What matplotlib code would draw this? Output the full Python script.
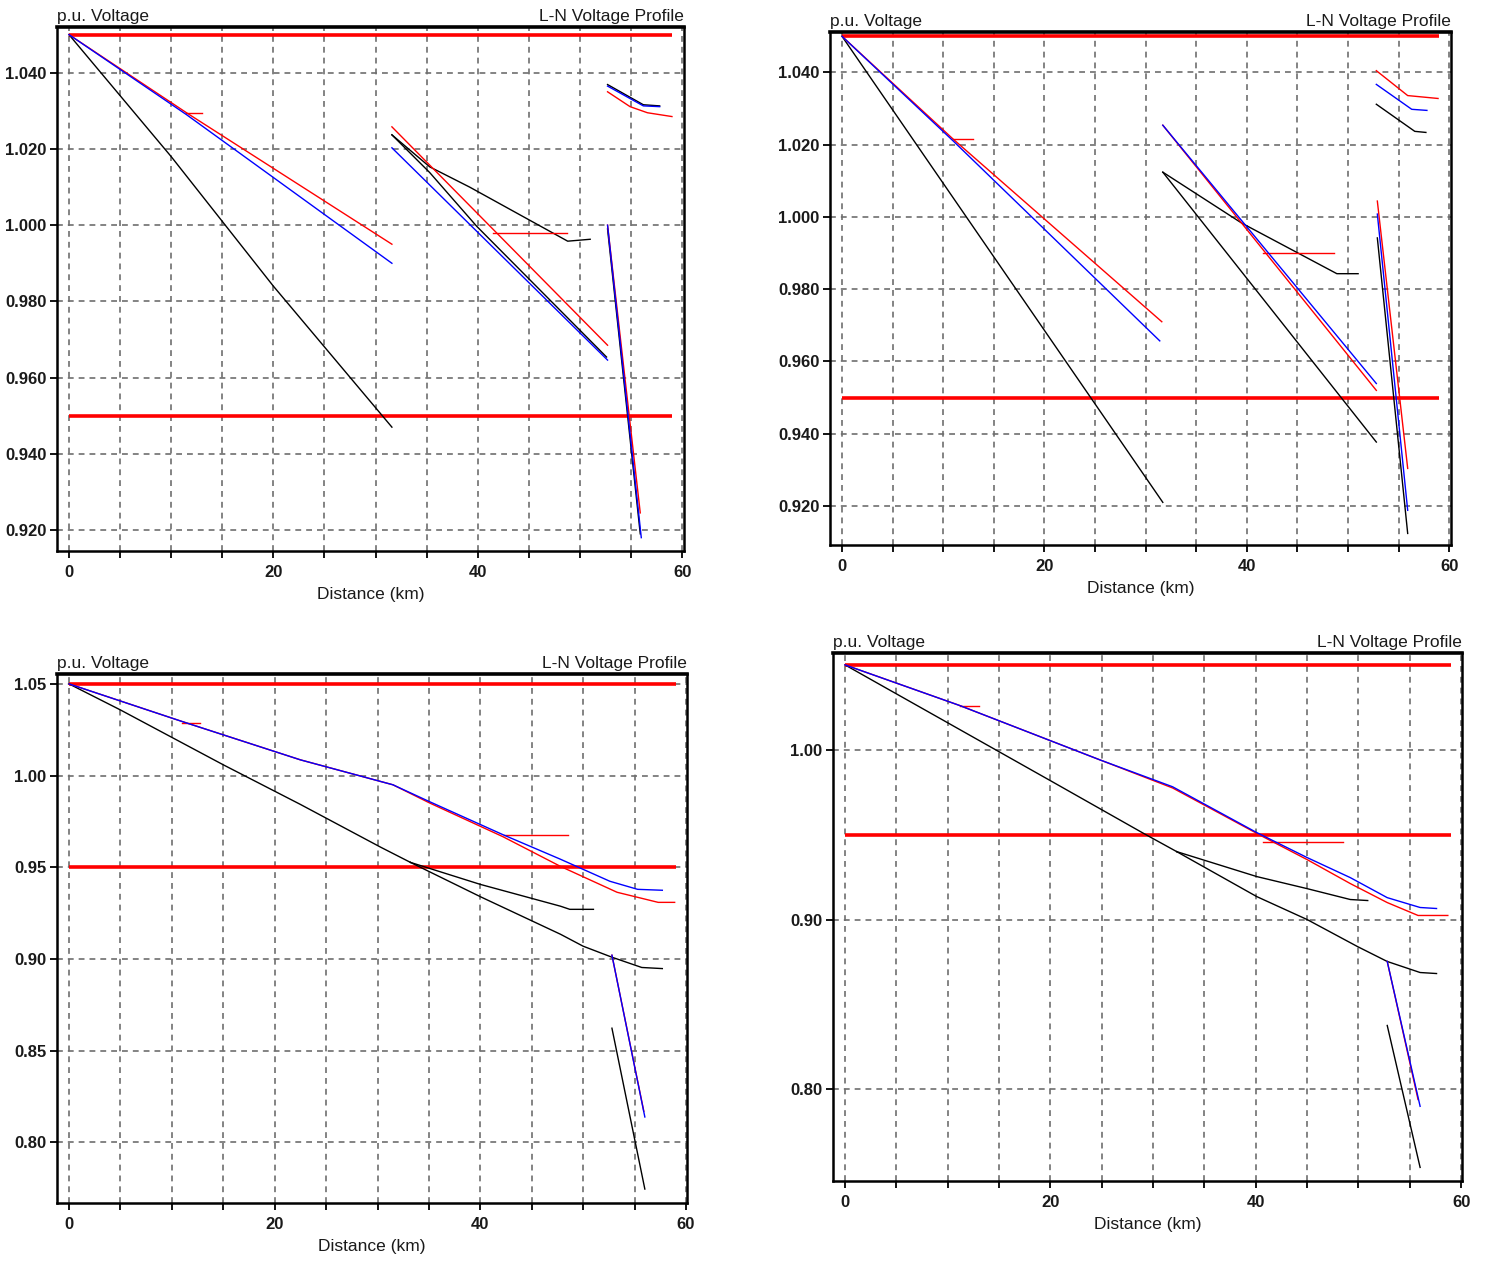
import matplotlib
matplotlib.use("Agg")
import matplotlib.pyplot as plt
import numpy as np

plt.rcParams['font.family'] = ['Liberation Sans Narrow', 'Liberation Sans', 'DejaVu Sans']

# limits of the voltage band
V_MAX = 1.05
V_MIN = 0.95
LIMIT_X = [0, 59.0]

# ---- top-left panel: segments per phase as (distance km, p.u.)
P1_BLACK = [
    ([0, 10, 20, 31.6], [1.050, 1.018, 0.984, 0.947]),
    ([31.6, 35.3, 39.2, 48.8, 51.0], [1.0237, 1.0153, 1.010, 0.9958, 0.9963]),
    ([31.6, 35.3, 39.9, 52.6], [1.0237, 1.0138, 0.9997, 0.9654]),
    ([52.7, 56.2, 57.8], [1.0369, 1.0316, 1.0313]),
    ([52.7, 55.9], [0.999, 0.919]),
]
P1_RED = [
    ([0, 11.5, 31.6], [1.050, 1.0295, 0.995]),
    ([11.5, 13.0], [1.0295, 1.0295]),
    ([31.6, 52.7], [1.0258, 0.9685]),
    ([41.5, 48.7], [0.998, 0.998]),
    ([52.7, 54.9, 56.6, 59.0], [1.035, 1.0311, 1.0295, 1.0285]),
    ([52.7, 55.9], [1.000, 0.9245]),
]
P1_BLUE = [
    ([0, 11.5, 31.6], [1.050, 1.029, 0.990]),
    ([31.6, 52.7], [1.0203, 0.9646]),
    ([52.7, 56.2, 57.8], [1.0365, 1.0313, 1.0311]),
    ([52.7, 56.0], [1.000, 0.918]),
]

# ---- top-right panel
P2_BLACK = [
    ([0, 31.7], [1.050, 0.921]),
    ([31.7, 39.5, 48.9, 51.0], [1.0124, 0.9983, 0.9843, 0.9843]),
    ([31.7, 52.8], [1.0124, 0.9377]),
    ([52.8, 56.6, 57.7], [1.0312, 1.0237, 1.0234]),
    ([52.9, 55.9], [0.9942, 0.9124]),
]
P2_RED = [
    ([0, 11, 31.6], [1.050, 1.0215, 0.971]),
    ([11, 12.9], [1.0215, 1.0215]),
    ([31.7, 52.8], [1.0254, 0.952]),
    ([41.6, 48.6], [0.990, 0.990]),
    ([52.8, 55.9, 58.9], [1.0405, 1.0336, 1.0328]),
    ([52.9, 55.9], [1.0044, 0.9304]),
]
P2_BLUE = [
    ([0, 11, 31.4], [1.050, 1.021, 0.9657]),
    ([31.7, 52.8], [1.0254, 0.9539]),
    ([52.8, 56.3, 57.8], [1.0367, 1.0298, 1.0295]),
    ([52.9, 55.9], [1.0008, 0.9188]),
]

# ---- bottom-left panel
P3_BLACK = [
    ([0, 5, 15, 22.5, 30.3, 33.2], [1.050, 1.0358, 1.0059, 0.9843, 0.961, 0.9527]),
    ([33.2, 40, 47.8, 48.7, 51.0], [0.9527, 0.9407, 0.9288, 0.9271, 0.9271]),
    ([33.2, 40, 47.8, 50.0, 52.8, 55.7, 57.7], [0.9527, 0.934, 0.9135, 0.907, 0.901, 0.8954, 0.8948]),
    ([52.8, 56.0], [0.8623, 0.7746]),
]
P3_RED = [
    ([0, 11, 22.5, 31.5, 35.1, 42.2, 47.8, 53.3, 57.3, 58.9],
     [1.050, 1.0295, 1.0086, 0.995, 0.9850, 0.9667, 0.9505, 0.9364, 0.9309, 0.9309]),
    ([11, 12.7], [1.0288, 1.0288]),
    ([42.3, 48.5], [0.9674, 0.9674]),
    ([52.8, 55.9], [0.9021, 0.817]),
]
P3_BLUE = [
    ([0, 11, 22.5, 31.5, 35.1, 42.2, 47.8, 52.6, 55.3, 57.7],
     [1.050, 1.0295, 1.0086, 0.995, 0.9857, 0.9678, 0.9544, 0.9424, 0.938, 0.9375]),
    ([52.8, 56.0], [0.9021, 0.8139]),
]

# ---- bottom-right panel
P4_BLACK = [
    ([0, 20, 29, 32.3], [1.050, 0.9818, 0.951, 0.940]),
    ([32.3, 40.1, 45.0, 49.2, 50.9], [0.940, 0.9253, 0.9182, 0.9118, 0.9112]),
    ([32.3, 40.1, 45.0, 49.9, 52.8, 56.0, 57.6], [0.940, 0.9135, 0.900, 0.8841, 0.8753, 0.8688, 0.8682]),
    ([52.8, 56.0], [0.8376, 0.754]),
]
P4_RED = [
    ([0, 11.2, 24.8, 31.9, 40.7, 45.0, 49.2, 52.8, 55.8, 58.7],
     [1.050, 1.026, 0.9941, 0.9775, 0.9488, 0.9353, 0.9212, 0.9100, 0.9024, 0.9024]),
    ([11.2, 13.0], [1.026, 1.026]),
    ([40.7, 48.5], [0.9459, 0.9459]),
    ([52.8, 55.8], [0.8753, 0.794]),
]
P4_BLUE = [
    ([0, 11.2, 24.8, 31.9, 40.1, 45.0, 49.2, 52.8, 56.0, 57.6],
     [1.050, 1.026, 0.9941, 0.9782, 0.9512, 0.9365, 0.9247, 0.9129, 0.9071, 0.9065]),
    ([52.8, 56.0], [0.8753, 0.790]),
]

X_LABELS = [0, 20, 40, 60]
P1_YTICKS = [0.92, 0.94, 0.96, 0.98, 1.00, 1.02, 1.04]
P3_YTICKS = [0.80, 0.85, 0.90, 0.95, 1.00, 1.05]
P4_YTICKS = [0.80, 0.90, 1.00]

W, H = 1487, 1264
fig = plt.figure(figsize=(W / 100, H / 100), dpi=100)
fig.patch.set_facecolor('white')
TXT = '#1a1a1a'


def make_axes(left, right, top, bottom):
    return fig.add_axes([left / W, 1 - bottom / H, (right - left) / W, (bottom - top) / H])


def draw_panel(ax, xlim, ylim, yticks, yfmt, black, red, blue):
    ax.set_xlim(*xlim)
    ax.set_ylim(*ylim)
    for v in np.arange(0, 61, 5):
        ax.axvline(v, color='#6e6e6e', lw=1.2, ls=(0, (3.5, 3)), zorder=1)
    for v in yticks:
        ax.axhline(v, color='#6e6e6e', lw=1.2, ls=(0, (3.5, 3)), zorder=1)
    ax.plot(LIMIT_X, [V_MAX, V_MAX], color='#ff0000', lw=2.6, zorder=2, solid_capstyle='butt')
    ax.plot(LIMIT_X, [V_MIN, V_MIN], color='#ff0000', lw=2.6, zorder=2, solid_capstyle='butt')
    for xs, ys in black:
        ax.plot(xs, ys, color='black', lw=1.0, zorder=3)
    for xs, ys in red:
        ax.plot(xs, ys, color='#ff0000', lw=1.0, zorder=4)
    for xs, ys in blue:
        ax.plot(xs, ys, color='#0000ff', lw=1.0, zorder=5)

    ax.set_xticks(np.arange(0, 61, 5))
    ax.set_xticklabels([str(int(v)) if v in X_LABELS else '' for v in np.arange(0, 61, 5)])
    ax.set_yticks(yticks)
    ax.set_yticklabels([yfmt % v for v in yticks])
    ax.tick_params(direction='out', length=5, width=1.3, color='black',
                   labelsize=12, labelcolor=TXT)
    ax.tick_params(axis='y', pad=2.5)
    ax.tick_params(axis='x', pad=5)
    for lab in ax.get_xticklabels() + ax.get_yticklabels():
        lab.set_fontweight('bold')
    for side in ['left', 'bottom', 'right']:
        ax.spines[side].set_linewidth(1.8)
    ax.spines['top'].set_linewidth(2.6)

    ax.text(0.0, 1.006, 'p.u. Voltage', transform=ax.transAxes, ha='left', va='bottom',
            fontsize=12.5, color=TXT)
    ax.text(1.0, 1.006, 'L-N Voltage Profile', transform=ax.transAxes, ha='right', va='bottom',
            fontsize=12.5, color=TXT)
    ax.set_xlabel('Distance (km)', fontsize=12.5, color=TXT, labelpad=5)


ax1 = make_axes(57, 684, 27, 551)
draw_panel(ax1, (-1.17, 60.18), (0.9145, 1.052), P1_YTICKS, '%.3f', P1_BLACK, P1_RED, P1_BLUE)

ax2 = make_axes(830, 1451, 32, 545)
draw_panel(ax2, (-1.19, 60.18), (0.9092, 1.0512), P1_YTICKS, '%.3f', P2_BLACK, P2_RED, P2_BLUE)

ax3 = make_axes(57, 687, 674, 1203)
draw_panel(ax3, (-1.17, 60.1), (0.767, 1.0554), P3_YTICKS, '%.2f', P3_BLACK, P3_RED, P3_BLUE)

ax4 = make_axes(833, 1462, 653, 1181)
draw_panel(ax4, (-1.17, 60.08), (0.746, 1.057), P4_YTICKS, '%.2f', P4_BLACK, P4_RED, P4_BLUE)

fig.savefig('out.png', dpi=100, facecolor='white')
